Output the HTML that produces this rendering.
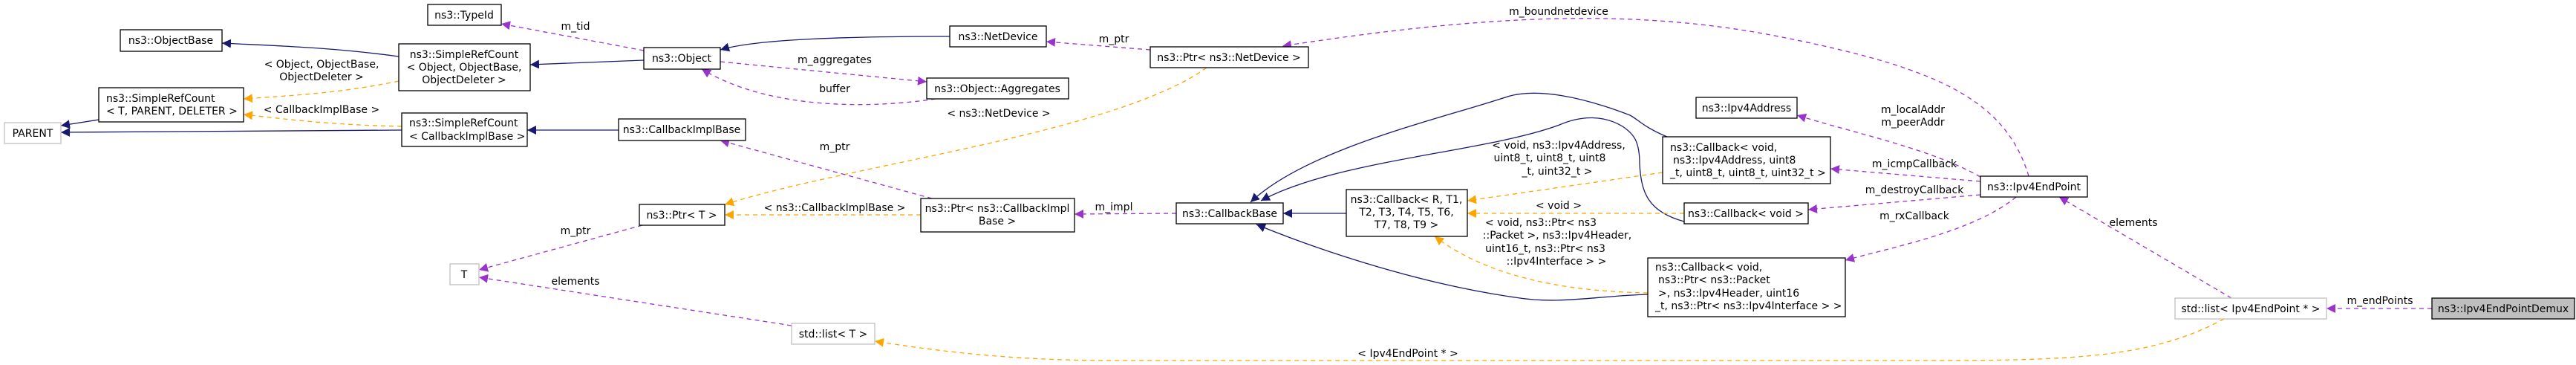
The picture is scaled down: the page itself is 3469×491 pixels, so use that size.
<!DOCTYPE html>
<html><head><meta charset="utf-8"><style>
html,body{margin:0;padding:0;background:#fff;}
svg{display:block;}
text{font-family:"DejaVu Sans","Liberation Sans",sans-serif;font-size:14px;fill:#000;}
.b{fill:#fff;stroke:#000;stroke-width:1.3;}
.g{fill:#fff;stroke:#bfbfbf;stroke-width:1.3;}
.n{fill:none;stroke:#191970;stroke-width:1.3;}
.p{fill:none;stroke:#9a32cd;stroke-width:1.3;stroke-dasharray:6,5;}
.o{fill:none;stroke:#ffa500;stroke-width:1.3;stroke-dasharray:6,5;}
</style></head><body>
<svg width="3469" height="491" viewBox="0 0 3469 491" xmlns="http://www.w3.org/2000/svg">
<defs>
<marker id="an" markerUnits="userSpaceOnUse" markerWidth="14" markerHeight="12" refX="12" refY="6" orient="auto"><path d="M0,0 L12,6 L0,12 z" fill="#191970"/></marker>
<marker id="ap" markerUnits="userSpaceOnUse" markerWidth="14" markerHeight="12" refX="12" refY="6" orient="auto"><path d="M0,0 L12,6 L0,12 z" fill="#9a32cd"/></marker>
<marker id="ao" markerUnits="userSpaceOnUse" markerWidth="14" markerHeight="12" refX="12" refY="6" orient="auto"><path d="M0,0 L12,6 L0,12 z" fill="#ffa500"/></marker>
</defs>

<!-- edges -->
<path class="n" marker-end="url(#an)" d="M537,76 C450,64 380,62 299,58"/>
<path class="n" marker-end="url(#an)" d="M867,81 L714,87"/>
<path class="n" marker-end="url(#an)" d="M133,161 L82,169"/>
<path class="n" marker-end="url(#an)" d="M541,175 L82,178"/>
<path class="o" marker-end="url(#ao)" d="M537,109 C460,125 400,128 328,133"/>
<path class="o" marker-end="url(#ao)" d="M541,170 C450,168 400,162 328,154"/>
<path class="n" marker-end="url(#an)" d="M833,175 L710,175"/>
<path class="p" marker-end="url(#ap)" d="M867,68 L675,32"/>
<path class="n" marker-end="url(#an)" d="M1279,49 C1150,49 1020,52 970,67"/>
<path class="p" marker-end="url(#ap)" d="M970,83 L1248,110"/>
<path class="p" marker-end="url(#ap)" d="M1260,133 C1180,145 1040,150 945,93"/>
<path class="p" marker-end="url(#ap)" d="M1549,67 L1409,56"/>
<path class="o" marker-end="url(#ao)" d="M1625,91 C1500,180 1150,220 976,275"/>
<path class="p" marker-end="url(#ap)" d="M1255,267 L970,189"/>
<path class="o" marker-end="url(#ao)" d="M1240,289 L976,289"/>
<path class="p" marker-end="url(#ap)" d="M1584,287 L1447,288"/>
<path class="p" marker-end="url(#ap)" d="M865,303 L645,363"/>
<path class="p" marker-end="url(#ap)" d="M1066,438 L645,373"/>
<path class="n" marker-end="url(#an)" d="M1813,287 L1728,287"/>
<path class="n" marker-end="url(#an)" d="M2245,184 C2215,172 2205,160 2195,155 C2130,130 2070,118 2030,130 C1940,160 1760,200 1684,272"/>
<path class="n" marker-end="url(#an)" d="M2268,298 C2220,285 2210,260 2208,220 C2208,190 2200,180 2185,170 C2160,155 2130,155 2100,168 C2000,205 1800,215 1698,270"/>
<path class="n" marker-end="url(#an)" d="M2219,396 C2150,398 2100,410 2040,400 C1900,380 1760,330 1692,302"/>
<path class="o" marker-end="url(#ao)" d="M2239,232 L1976,270"/>
<path class="o" marker-end="url(#ao)" d="M2268,287 L1976,287"/>
<path class="o" marker-end="url(#ao)" d="M2219,394 C2100,392 2000,370 1932,318"/>
<path class="p" marker-end="url(#ap)" d="M2667,238 C2600,200 2500,180 2420,155"/>
<path class="p" marker-end="url(#ap)" d="M2667,244 L2465,227"/>
<path class="p" marker-end="url(#ap)" d="M2667,262 L2435,282"/>
<path class="p" marker-end="url(#ap)" d="M2715,265 C2660,310 2560,330 2485,350"/>
<path class="p" marker-end="url(#ap)" d="M2732,237 C2700,130 2600,90 2400,50 C2200,10 2000,20 1727,62"/>
<path class="p" marker-end="url(#ap)" d="M3005,401 L2773,265"/>
<path class="p" marker-end="url(#ap)" d="M3275,415 L3133,415"/>
<path class="o" marker-end="url(#ao)" d="M2995,429 C2900,480 2800,485 2600,485 L1500,485 C1350,485 1250,470 1178,459"/>

<!-- boxes -->
<rect class="b" x="576" y="6" width="99" height="28"/><text x="625" y="25" text-anchor="middle">ns3::TypeId</text>
<rect class="b" x="162" y="40" width="137" height="29"/><text x="230" y="59" text-anchor="middle">ns3::ObjectBase</text>
<rect class="b" x="537" y="59" width="177" height="63"/>
<text x="625" y="78" text-anchor="middle">ns3::SimpleRefCount</text>
<text x="625" y="95" text-anchor="middle">&lt; Object, ObjectBase,</text>
<text x="625" y="112" text-anchor="middle">ObjectDeleter &gt;</text>
<rect class="b" x="133" y="118" width="195" height="46"/>
<text x="143" y="137">ns3::SimpleRefCount</text>
<text x="143" y="154">&lt; T, PARENT, DELETER &gt;</text>
<rect class="g" x="6" y="165" width="76" height="28"/><text x="44" y="184" text-anchor="middle">PARENT</text>
<rect class="b" x="541" y="152" width="169" height="45"/>
<text x="551" y="170">ns3::SimpleRefCount</text>
<text x="551" y="188">&lt; CallbackImplBase &gt;</text>
<rect class="b" x="867" y="64" width="103" height="29"/><text x="918" y="83" text-anchor="middle">ns3::Object</text>
<rect class="b" x="833" y="160" width="171" height="29"/><text x="918" y="179" text-anchor="middle">ns3::CallbackImplBase</text>
<rect class="b" x="861" y="275" width="115" height="28"/><text x="918" y="294" text-anchor="middle">ns3::Ptr&lt; T &gt;</text>
<rect class="g" x="606" y="355" width="39" height="28"/><text x="625" y="374" text-anchor="middle">T</text>
<rect class="b" x="1279" y="35" width="130" height="28"/><text x="1344" y="54" text-anchor="middle">ns3::NetDevice</text>
<rect class="b" x="1248" y="105" width="191" height="28"/><text x="1343" y="124" text-anchor="middle">ns3::Object::Aggregates</text>
<rect class="b" x="1240" y="267" width="207" height="45"/>
<text x="1343" y="285" text-anchor="middle">ns3::Ptr&lt; ns3::CallbackImpl</text>
<text x="1343" y="302" text-anchor="middle">Base &gt;</text>
<rect class="b" x="1584" y="273" width="144" height="28"/><text x="1656" y="292" text-anchor="middle">ns3::CallbackBase</text>
<rect class="b" x="1549" y="63" width="213" height="28"/><text x="1655" y="82" text-anchor="middle">ns3::Ptr&lt; ns3::NetDevice &gt;</text>
<rect class="g" x="1066" y="435" width="112" height="28"/><text x="1122" y="454" text-anchor="middle">std::list&lt; T &gt;</text>
<rect class="b" x="1813" y="255" width="163" height="63"/>
<text x="1894" y="273" text-anchor="middle">ns3::Callback&lt; R, T1,</text>
<text x="1894" y="290" text-anchor="middle">T2, T3, T4, T5, T6,</text>
<text x="1894" y="307" text-anchor="middle">T7, T8, T9 &gt;</text>
<rect class="b" x="2284" y="131" width="136" height="28"/><text x="2352" y="150" text-anchor="middle">ns3::Ipv4Address</text>
<rect class="b" x="2239" y="184" width="226" height="63"/>
<text x="2249" y="203">ns3::Callback&lt; void,</text>
<text x="2253" y="220">ns3::Ipv4Address, uint8</text>
<text x="2249" y="237">_t, uint8_t, uint8_t, uint32_t &gt;</text>
<rect class="b" x="2268" y="273" width="167" height="28"/><text x="2351" y="292" text-anchor="middle">ns3::Callback&lt; void &gt;</text>
<rect class="b" x="2219" y="347" width="266" height="79"/>
<text x="2229" y="364">ns3::Callback&lt; void,</text>
<text x="2233" y="381">ns3::Ptr&lt; ns3::Packet</text>
<text x="2233" y="399">&gt;, ns3::Ipv4Header, uint16</text>
<text x="2229" y="416">_t, ns3::Ptr&lt; ns3::Ipv4Interface &gt; &gt;</text>
<rect class="b" x="2667" y="237" width="144" height="28"/><text x="2739" y="256" text-anchor="middle">ns3::Ipv4EndPoint</text>
<rect class="g" x="2929" y="401" width="204" height="28"/><text x="3031" y="420" text-anchor="middle">std::list&lt; Ipv4EndPoint * &gt;</text>
<rect x="3275" y="401" width="192" height="28" fill="#bfbfbf" stroke="#000" stroke-width="1.3"/><text x="3371" y="420" text-anchor="middle">ns3::Ipv4EndPointDemux</text>

<!-- labels -->
<text x="775" y="40" text-anchor="middle">m_tid</text>
<text x="433" y="91" text-anchor="middle">&lt; Object, ObjectBase,</text>
<text x="433" y="108" text-anchor="middle">ObjectDeleter &gt;</text>
<text x="433" y="152" text-anchor="middle">&lt; CallbackImplBase &gt;</text>
<text x="775" y="315" text-anchor="middle">m_ptr</text>
<text x="775" y="383" text-anchor="middle">elements</text>
<text x="1500" y="57" text-anchor="middle">m_ptr</text>
<text x="1124" y="85" text-anchor="middle">m_aggregates</text>
<text x="1124" y="124" text-anchor="middle">buffer</text>
<text x="1345" y="157" text-anchor="middle">&lt; ns3::NetDevice &gt;</text>
<text x="1124" y="202" text-anchor="middle">m_ptr</text>
<text x="1124" y="284" text-anchor="middle">&lt; ns3::CallbackImplBase &gt;</text>
<text x="1500" y="283" text-anchor="middle">m_impl</text>
<text x="2099" y="20" text-anchor="middle">m_boundnetdevice</text>
<text x="2576" y="152" text-anchor="middle">m_localAddr</text>
<text x="2576" y="169" text-anchor="middle">m_peerAddr</text>
<text x="2578" y="225" text-anchor="middle">m_icmpCallback</text>
<text x="2578" y="260" text-anchor="middle">m_destroyCallback</text>
<text x="2578" y="295" text-anchor="middle">m_rxCallback</text>
<text x="2099" y="200" text-anchor="middle">&lt; void, ns3::Ipv4Address,</text>
<text x="2087" y="217" text-anchor="middle">uint8_t, uint8_t, uint8</text>
<text x="2097" y="235" text-anchor="middle">_t, uint32_t &gt;</text>
<text x="2099" y="281" text-anchor="middle">&lt; void &gt;</text>
<text x="2075" y="304" text-anchor="middle">&lt; void, ns3::Ptr&lt; ns3</text>
<text x="2097" y="321" text-anchor="middle">::Packet &gt;, ns3::Ipv4Header,</text>
<text x="2081" y="339" text-anchor="middle">uint16_t, ns3::Ptr&lt; ns3</text>
<text x="2096" y="356" text-anchor="middle">::Ipv4Interface &gt; &gt;</text>
<text x="1896" y="480" text-anchor="middle">&lt; Ipv4EndPoint * &gt;</text>
<text x="2873" y="304" text-anchor="middle">elements</text>
<text x="3205" y="409" text-anchor="middle">m_endPoints</text>
</svg>
</body></html>
